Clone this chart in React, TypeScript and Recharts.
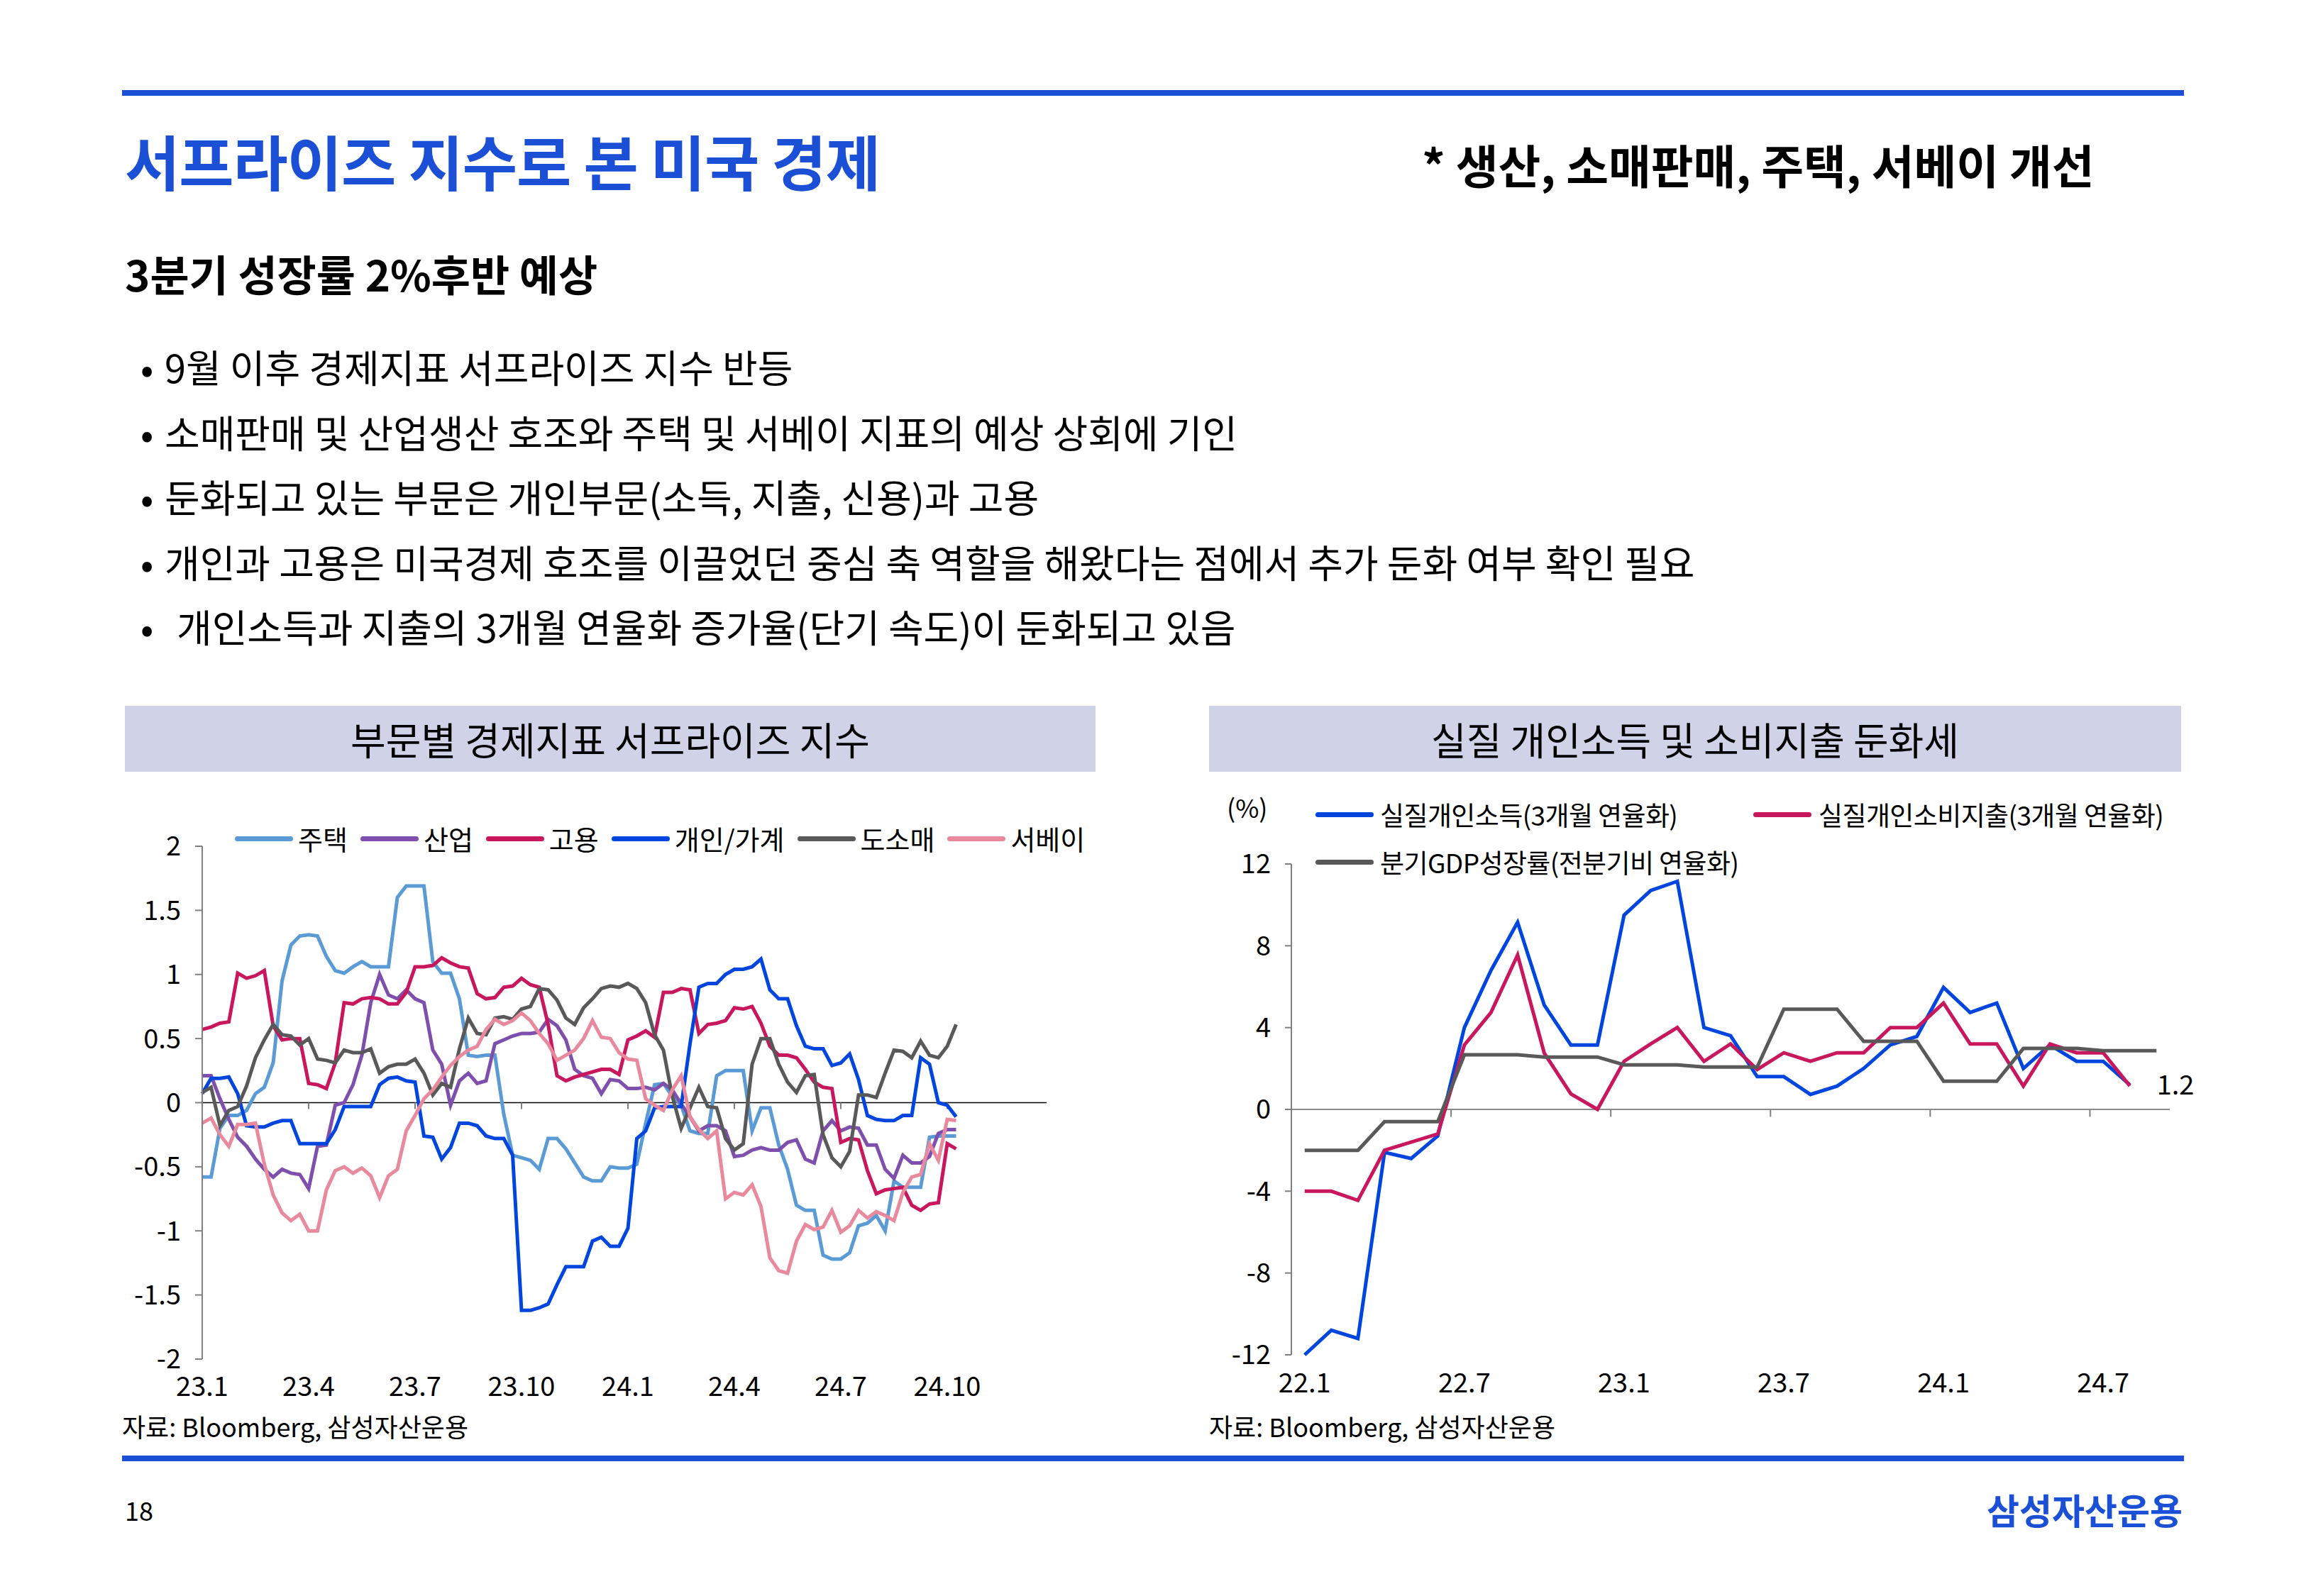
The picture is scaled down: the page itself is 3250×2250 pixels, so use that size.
import React from "react";
import { LineChart, Line, XAxis, YAxis, ReferenceLine } from "recharts";

const FONT = "'Noto Sans CJK KR', 'Noto Sans', sans-serif";
const NUM_FONT = "'Liberation Sans Narrow', 'Noto Sans CJK KR', sans-serif";
const BRAND = "#1a4fd6";

// ---- left: 부문별 경제지표 서프라이즈 지수 (quarter-month steps from 23.1) ----
const surpriseTickMonths = [0, 3, 6, 9, 12, 15, 18, 21];
const surpriseTickLabels = ["23.1", "23.4", "23.7", "23.10", "24.1", "24.4", "24.7", "24.10"];
const surpriseYTicks = [-2, -1.5, -1, -0.5, 0, 0.5, 1, 1.5, 2];

const housing = [
  -0.58, -0.58, -0.2, -0.1, -0.1, -0.06, 0.07, 0.12, 0.31, 0.95, 1.23, 1.3, 1.31, 1.3, 1.14, 1.03, 1.01, 1.06, 1.1, 1.06, 1.06, 1.06, 1.6,
  1.69, 1.69, 1.69, 1.1, 1.01, 1.01, 0.81, 0.37, 0.36, 0.37, 0.37, -0.09, -0.41, -0.43, -0.45, -0.52, -0.28, -0.28, -0.36, -0.47, -0.58,
  -0.61, -0.61, -0.5, -0.51, -0.51, -0.48, -0.16, 0.14, 0.15, 0.05, -0.02, -0.22, -0.24, -0.24, 0.21, 0.25, 0.25, 0.25, -0.22, -0.04, -0.04, -0.33,
  -0.52, -0.8, -0.84, -0.84, -1.19, -1.22, -1.22, -1.17, -0.96, -0.94, -0.88, -1.0, -0.61, -0.66, -0.66, -0.66, -0.27, -0.26, -0.26, -0.26,
];
const industry = [
  0.21, 0.21, 0.03, -0.13, -0.27, -0.34, -0.44, -0.52, -0.58, -0.52, -0.55, -0.56, -0.67, -0.34, -0.33, -0.02, 0.0, 0.14, 0.37, 0.78, 1.0, 0.84, 0.81,
  0.88, 0.81, 0.78, 0.41, 0.3, -0.02, 0.17, 0.23, 0.15, 0.17, 0.46, 0.49, 0.52, 0.54, 0.54, 0.55, 0.65, 0.6, 0.49, 0.26, 0.21,
  0.19, 0.07, 0.18, 0.17, 0.11, 0.11, 0.12, 0.1, 0.15, 0.1, -0.01, -0.11, -0.22, -0.18, -0.18, -0.22, -0.42, -0.41, -0.37, -0.35, -0.37, -0.37,
  -0.31, -0.29, -0.44, -0.47, -0.22, -0.14, -0.22, -0.19, -0.2, -0.33, -0.33, -0.52, -0.59, -0.41, -0.47, -0.47, -0.42, -0.24, -0.21, -0.21,
];
const employment = [
  0.57, 0.59, 0.62, 0.63, 1.01, 0.97, 0.99, 1.03, 0.6, 0.49, 0.5, 0.5, 0.15, 0.14, 0.11, 0.31, 0.78, 0.77, 0.81, 0.82, 0.81, 0.77, 0.77,
  0.86, 1.06, 1.06, 1.07, 1.13, 1.09, 1.06, 1.05, 0.85, 0.81, 0.82, 0.9, 0.91, 0.97, 0.92, 0.9, 0.61, 0.21, 0.17, 0.2, 0.22,
  0.24, 0.26, 0.26, 0.22, 0.49, 0.52, 0.56, 0.51, 0.86, 0.86, 0.89, 0.88, 0.54, 0.61, 0.62, 0.64, 0.74, 0.73, 0.75, 0.62, 0.44, 0.37,
  0.37, 0.35, 0.26, 0.16, 0.12, 0.11, -0.31, -0.28, -0.29, -0.53, -0.71, -0.68, -0.67, -0.66, -0.8, -0.84, -0.79, -0.78, -0.32, -0.36,
];
const household = [
  0.07, 0.19, 0.19, 0.2, 0.07, -0.18, -0.19, -0.19, -0.16, -0.14, -0.14, -0.32, -0.32, -0.32, -0.32, -0.21, -0.03, -0.03, -0.03, -0.03, 0.14, 0.19, 0.2,
  0.17, 0.16, -0.26, -0.27, -0.44, -0.35, -0.16, -0.16, -0.18, -0.26, -0.28, -0.28, -0.41, -1.62, -1.62, -1.6, -1.57, -1.42, -1.28, -1.28, -1.28,
  -1.08, -1.05, -1.12, -1.12, -0.98, -0.28, -0.22, -0.04, -0.03, -0.03, -0.03, 0.46, 0.9, 0.93, 0.93, 1.0, 1.04, 1.04, 1.06, 1.12, 0.88, 0.81,
  0.81, 0.6, 0.44, 0.42, 0.42, 0.29, 0.31, 0.38, 0.18, -0.1, -0.13, -0.14, -0.14, -0.1, -0.1, 0.35, 0.3, 0.0, -0.02, -0.11,
];
const retail = [
  0.08, 0.12, -0.18, -0.06, -0.03, 0.13, 0.35, 0.49, 0.61, 0.53, 0.52, 0.45, 0.5, 0.34, 0.33, 0.31, 0.41, 0.39, 0.39, 0.42, 0.23, 0.28, 0.3,
  0.3, 0.34, 0.23, 0.06, 0.15, 0.12, 0.42, 0.66, 0.54, 0.53, 0.66, 0.67, 0.65, 0.73, 0.75, 0.89, 0.88, 0.8, 0.66, 0.61, 0.74,
  0.81, 0.89, 0.91, 0.9, 0.93, 0.89, 0.78, 0.53, 0.41, 0.05, -0.2, -0.04, 0.12, -0.03, -0.04, -0.28, -0.37, -0.32, 0.3, 0.5, 0.5, 0.3,
  0.16, 0.08, 0.21, 0.22, -0.25, -0.43, -0.5, -0.38, 0.06, 0.06, 0.04, 0.23, 0.41, 0.4, 0.35, 0.48, 0.37, 0.35, 0.44, 0.61,
];
const survey = [
  -0.16, -0.12, -0.25, -0.34, -0.17, -0.17, -0.16, -0.48, -0.72, -0.86, -0.92, -0.87, -1.0, -1.0, -0.68, -0.53, -0.5, -0.55, -0.51, -0.57, -0.74, -0.57, -0.52,
  -0.22, -0.1, 0.03, 0.1, 0.2, 0.29, 0.36, 0.41, 0.44, 0.57, 0.65, 0.61, 0.64, 0.7, 0.64, 0.54, 0.46, 0.33, 0.37, 0.41, 0.5,
  0.64, 0.51, 0.5, 0.39, 0.34, 0.33, 0.03, -0.02, -0.06, 0.1, 0.21, -0.11, -0.21, -0.28, -0.22, -0.75, -0.7, -0.72, -0.64, -0.81, -1.21, -1.31,
  -1.33, -1.08, -0.95, -0.99, -0.97, -0.84, -1.01, -0.96, -0.84, -0.9, -0.85, -0.88, -0.92, -0.7, -0.58, -0.56, -0.32, -0.45, -0.13, -0.14,
];

const surpriseSeries = [
  { key: "housing", name: "주택", color: "#5b9bd5", values: housing },
  { key: "industry", name: "산업", color: "#7f4fae", values: industry },
  { key: "employment", name: "고용", color: "#c8175d", values: employment },
  { key: "household", name: "개인/가계", color: "#0046de", values: household },
  { key: "retail", name: "도소매", color: "#595959", values: retail },
  { key: "survey", name: "서베이", color: "#e8899e", values: survey },
];

const surpriseRows = housing.map((_, i) => {
  const row: Record<string, number> = { month: i / 4 };
  surpriseSeries.forEach((s) => {
    row[s.key] = s.values[i];
  });
  return row;
});

// ---- right: 실질 개인소득 및 소비지출 (monthly, 22.1 ~ 24.9) ----
const monthLabels = [
  "22.1", "22.2", "22.3", "22.4", "22.5", "22.6", "22.7", "22.8", "22.9", "22.10", "22.11", "22.12",
  "23.1", "23.2", "23.3", "23.4", "23.5", "23.6", "23.7", "23.8", "23.9", "23.10", "23.11", "23.12",
  "24.1", "24.2", "24.3", "24.4", "24.5", "24.6", "24.7", "24.8", "24.9",
];
const incomeGrowth = [
  -12.0, -10.8, -11.2, -2.1, -2.4, -1.3, 4.0, 6.8, 9.15, 5.1, 3.15, 3.15, 9.5, 10.7, 11.15, 4.0,
  3.6, 1.6, 1.6, 0.73, 1.14, 2.0, 3.15, 3.57, 5.96, 4.74, 5.2, 2.0, 3.15, 2.35, 2.35, 1.2,
];
const spendingGrowth = [
  -4.0, -4.0, -4.45, -2.0, -1.6, -1.2, 3.15, 4.74, 7.55, 2.75, 0.76, 0.0, 2.35, 3.2, 4.0, 2.35,
  3.2, 1.95, 2.77, 2.35, 2.77, 2.77, 4.0, 4.0, 5.2, 3.2, 3.2, 1.14, 3.2, 2.77, 2.77, 1.15,
];
const gdpGrowth = [
  -2.0, -2.0, -2.0, -0.6, -0.6, -0.6, 2.67, 2.67, 2.67, 2.56, 2.56, 2.56, 2.18, 2.18, 2.18, 2.07, 2.07,
  2.07, 4.9, 4.9, 4.9, 3.33, 3.33, 3.33, 1.38, 1.38, 1.38, 2.98, 2.98, 2.98, 2.87, 2.87, 2.87,
];
const incomeTickIdx = [0, 6, 12, 18, 24, 30];
const incomeYTicks = [-12, -8, -4, 0, 4, 8, 12];

const incomeSeries = [
  { key: "income", name: "실질개인소득(3개월 연율화)", color: "#0046de", values: incomeGrowth },
  { key: "spending", name: "실질개인소비지출(3개월 연율화)", color: "#c8175d", values: spendingGrowth },
  { key: "gdp", name: "분기GDP성장률(전분기비 연율화)", color: "#595959", values: gdpGrowth },
];

const incomeRows = monthLabels.map((label, i) => ({
  idx: i,
  label,
  income: incomeGrowth[i],
  spending: spendingGrowth[i],
  gdp: gdpGrowth[i],
}));

const bullets = [
  "9월 이후 경제지표 서프라이즈 지수 반등",
  "소매판매 및 산업생산 호조와 주택 및 서베이 지표의 예상 상회에 기인",
  "둔화되고 있는 부문은 개인부문(소득, 지출, 신용)과 고용",
  "개인과 고용은 미국경제 호조를 이끌었던 중심 축 역할을 해왔다는 점에서 추가 둔화 여부 확인 필요",
  " 개인소득과 지출의 3개월 연율화 증가율(단기 속도)이 둔화되고 있음",
];

const abs = (left: number, top: number, extra: React.CSSProperties = {}): React.CSSProperties => ({
  position: "absolute",
  left,
  top,
  whiteSpace: "nowrap",
  lineHeight: 1,
  ...extra,
});

const numTick = { fontSize: 38, fill: "#000", fontFamily: NUM_FONT };

function LegendLine({ color }: { color: string }) {
  return <div style={{ width: 82, height: 7, borderRadius: 4, background: color }} />;
}

function SurpriseChart() {
  return (
    <div style={{ position: "absolute", left: 176, top: 1120 }}>
      <LineChart width={1400} height={880} data={surpriseRows} margin={{ top: 73, right: 101, bottom: 24, left: 29 }}>
        <XAxis
          type="number"
          dataKey="month"
          domain={[0, 23.8]}
          ticks={surpriseTickMonths}
          interval={0}
          tickFormatter={(v: number) => surpriseTickLabels[surpriseTickMonths.indexOf(v)]}
          axisLine={false}
          tickLine={false}
          tickSize={0}
          tickMargin={25}
          height={60}
          tick={numTick}
        />
        <YAxis
          type="number"
          domain={[-2, 2]}
          ticks={surpriseYTicks}
          interval={0}
          width={80}
          axisLine={{ stroke: "#808080", strokeWidth: 2 }}
          tickLine={{ stroke: "#808080", strokeWidth: 2 }}
          tickSize={10}
          tickMargin={20}
          tick={numTick}
        />
        <ReferenceLine y={0} stroke="#000" strokeWidth={1.5} />
        {surpriseTickMonths.slice(1).map((m) => (
          <ReferenceLine
            key={m}
            segment={[{ x: m, y: 0 }, { x: m, y: -0.05 }]}
            stroke="#808080"
            strokeWidth={2}
          />
        ))}
        {surpriseSeries.map((s) => (
          <Line
            key={s.key}
            type="linear"
            dataKey={s.key}
            stroke={s.color}
            strokeWidth={5}
            dot={false}
            activeDot={false}
            isAnimationActive={false}
          />
        ))}
      </LineChart>
      <div style={abs(155, 43, { display: "flex", alignItems: "center", fontSize: 38 })}>
        {surpriseSeries.map((s) => (
          <div key={s.key} style={{ display: "flex", alignItems: "center", marginRight: 18 }}>
            <LegendLine color={s.color} />
            <span style={{ marginLeft: 7 }}>{s.name}</span>
          </div>
        ))}
      </div>
    </div>
  );
}

function IncomeChart() {
  const lastIdx = incomeGrowth.length - 1;
  const endLabel = (props: any) => {
    if (props.index !== lastIdx) return null;
    return (
      <text x={props.x + 38} y={props.y} dy="0.35em" fontSize={38} fontFamily={NUM_FONT} fill="#000">
        {props.value}
      </text>
    );
  };
  return (
    <div style={{ position: "absolute", left: 1704, top: 1110 }}>
      <LineChart width={1420} height={890} data={incomeRows} margin={{ top: 108, right: 66, bottom: 30, left: 36 }}>
        <XAxis
          type="number"
          dataKey="idx"
          domain={[-0.5, 32.5]}
          ticks={incomeTickIdx}
          interval={0}
          tickFormatter={(v: number) => monthLabels[v]}
          axisLine={false}
          tickLine={false}
          tickSize={0}
          tickMargin={26}
          height={60}
          tick={numTick}
        />
        <YAxis
          type="number"
          domain={[-12, 12]}
          ticks={incomeYTicks}
          interval={0}
          width={80}
          axisLine={{ stroke: "#808080", strokeWidth: 2 }}
          tickLine={{ stroke: "#808080", strokeWidth: 2 }}
          tickSize={9}
          tickMargin={20}
          tick={numTick}
        />
        <ReferenceLine y={0} stroke="#8c8c8c" strokeWidth={2} />
        {incomeTickIdx.slice(1).map((i) => (
          <ReferenceLine
            key={i}
            segment={[{ x: i - 0.5, y: 0 }, { x: i - 0.5, y: -0.36 }]}
            stroke="#808080"
            strokeWidth={2}
          />
        ))}
        {incomeSeries.map((s) => (
          <Line
            key={s.key}
            type="linear"
            dataKey={s.key}
            stroke={s.color}
            strokeWidth={5}
            dot={false}
            activeDot={false}
            isAnimationActive={false}
            label={s.key === "income" ? endLabel : undefined}
          />
        ))}
      </LineChart>
      <div style={abs(25, 9, { fontSize: 36 })}>(%)</div>
      <div style={abs(150, 20, { display: "flex", alignItems: "center", fontSize: 37, letterSpacing: -0.6 })}>
        <LegendLine color={incomeSeries[0].color} />
        <span style={{ marginLeft: 9, width: 526 }}>{incomeSeries[0].name}</span>
        <LegendLine color={incomeSeries[1].color} />
        <span style={{ marginLeft: 10 }}>{incomeSeries[1].name}</span>
      </div>
      <div style={abs(150, 87, { display: "flex", alignItems: "center", fontSize: 37, letterSpacing: -0.6 })}>
        <LegendLine color={incomeSeries[2].color} />
        <span style={{ marginLeft: 9 }}>{incomeSeries[2].name}</span>
      </div>
    </div>
  );
}

export default function App() {
  return (
    <div
      style={{
        position: "absolute",
        left: 0,
        top: 0,
        width: 3250,
        height: 2250,
        background: "#fff",
        fontFamily: FONT,
        color: "#000",
        overflow: "hidden",
      }}
    >
      <div style={{ position: "absolute", left: 172, top: 127, width: 2906, height: 8, background: BRAND }} />
      <div style={abs(176, 184, { fontSize: 84, fontWeight: 700, color: BRAND, letterSpacing: -1 })}>
        서프라이즈 지수로 본 미국 경제
      </div>
      <div style={abs(2004, 199, { fontSize: 65, fontWeight: 700 })}>* 생산, 소매판매, 주택, 서베이 개선</div>
      <div style={abs(176, 355, { fontSize: 60, fontWeight: 700 })}>3분기 성장률 2%후반 예상</div>
      {bullets.map((b, i) => (
        <React.Fragment key={i}>
          <div style={abs(198, 490 + i * 91.5, { fontSize: 54 })}>•</div>
          <div style={abs(i === 4 ? 249 : 232, 490 + i * 91.5, { fontSize: 54 })}>{b.trim()}</div>
        </React.Fragment>
      ))}
      <div
        style={{
          position: "absolute",
          left: 176,
          top: 995,
          width: 1368,
          height: 93,
          background: "#d0d3e7",
          display: "flex",
          alignItems: "center",
          justifyContent: "center",
          fontSize: 54,
        }}
      >
        부문별 경제지표 서프라이즈 지수
      </div>
      <div
        style={{
          position: "absolute",
          left: 1704,
          top: 995,
          width: 1370,
          height: 93,
          background: "#d0d3e7",
          display: "flex",
          alignItems: "center",
          justifyContent: "center",
          fontSize: 54,
        }}
      >
        실질 개인소득 및 소비지출 둔화세
      </div>
      <SurpriseChart />
      <IncomeChart />
      <div style={abs(172, 1992, { fontSize: 36 })}>자료: Bloomberg, 삼성자산운용</div>
      <div style={abs(1704, 1992, { fontSize: 36 })}>자료: Bloomberg, 삼성자산운용</div>
      <div style={{ position: "absolute", left: 172, top: 2052, width: 2906, height: 8, background: BRAND }} />
      <div style={abs(176, 2110, { fontSize: 36 })}>18</div>
      <div style={abs(2800, 2102, { fontSize: 50, fontWeight: 700, color: BRAND, width: 274, textAlign: "right" })}>
        삼성자산운용
      </div>
    </div>
  );
}
